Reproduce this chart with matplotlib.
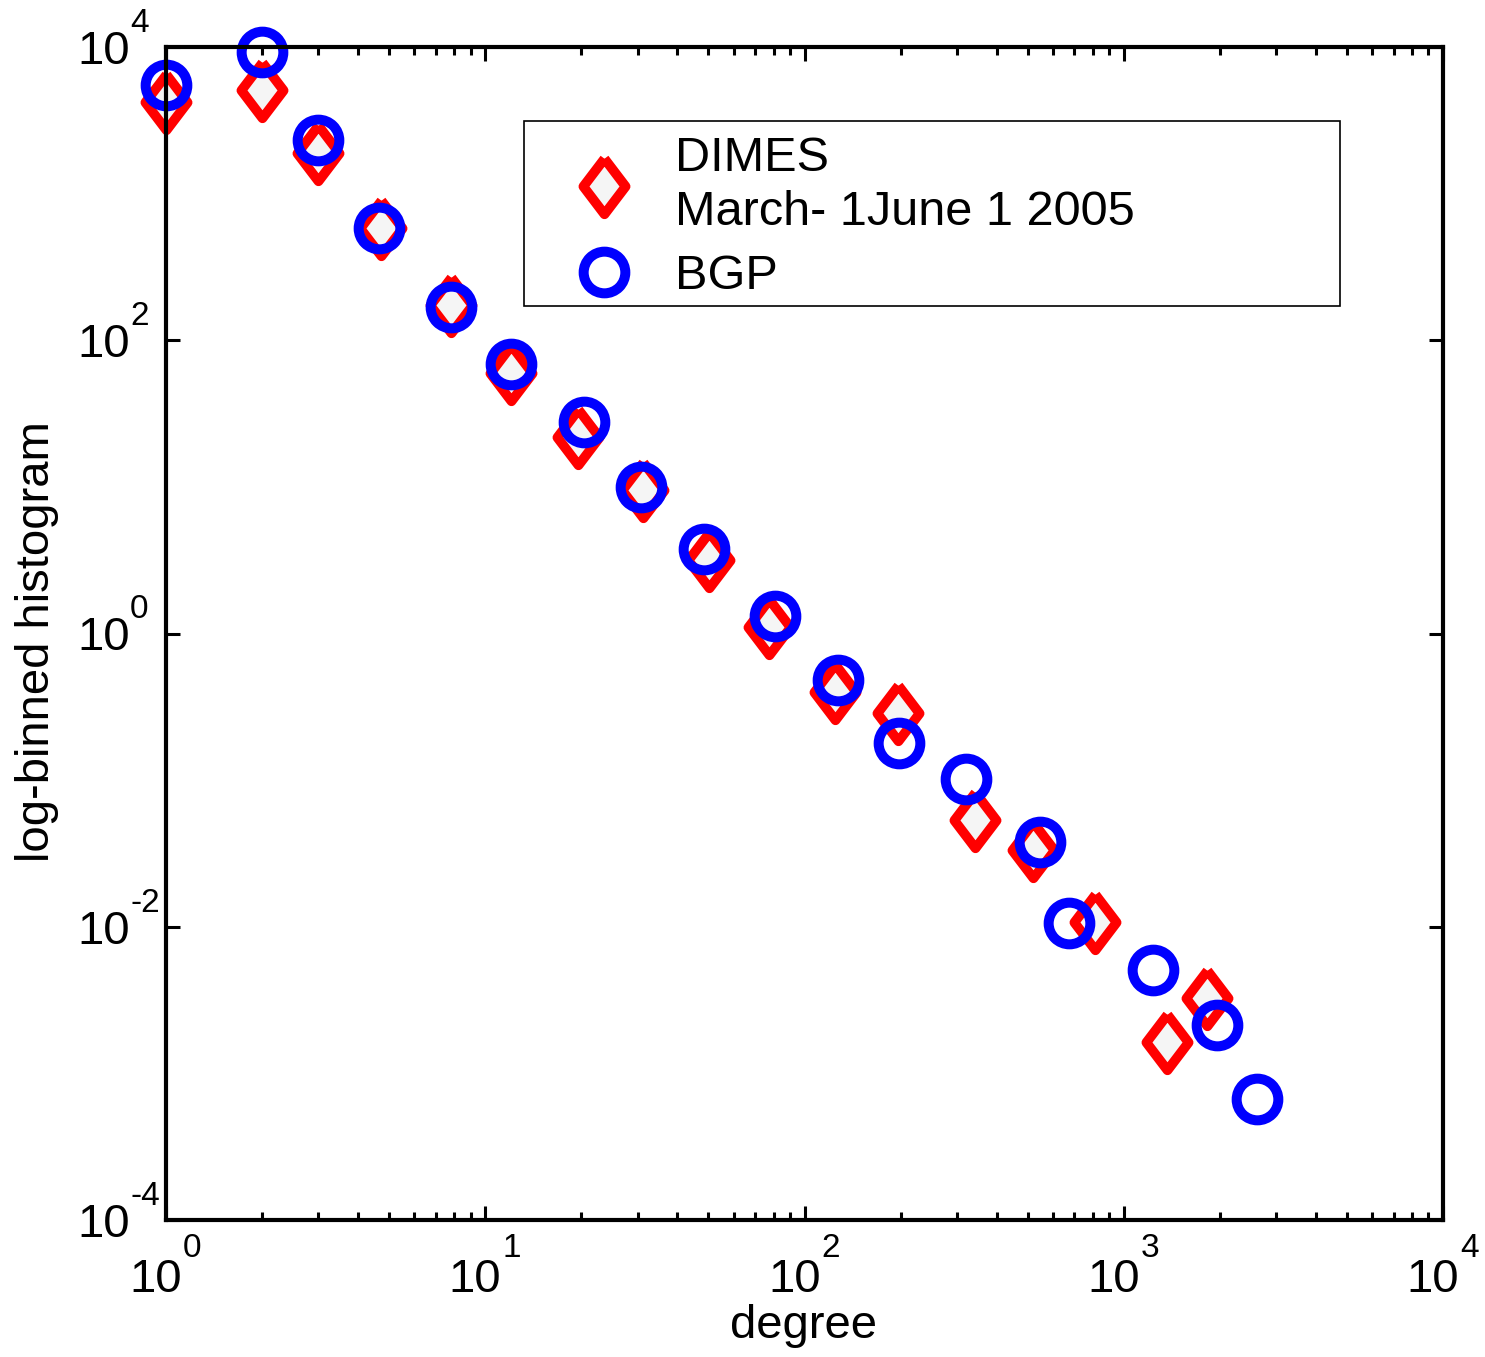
import matplotlib
matplotlib.use("Agg")
import matplotlib.pyplot as plt
from matplotlib.markers import MarkerStyle
from matplotlib.patches import Rectangle
from matplotlib.ticker import FixedLocator, NullLocator, LogLocator
from matplotlib.transforms import ScaledTranslation
import numpy as np

# ---- data ----
dimes_degree = [1, 2, 3, 4.7, 7.8, 12.0, 19.5, 31.2, 50.2, 77.4, 125, 196, 342, 520, 813, 1365, 1823]
dimes_hist = [4240, 5090, 1890, 582, 174, 59.7, 21.9, 9.5, 3.17, 1.1, 0.40, 0.286, 0.0533, 0.0333,
              0.0107, 0.00163, 0.00326]
bgp_degree = [1, 2, 3, 4.65, 7.8, 12.0, 20.4, 30.8, 48.4, 80.9, 127, 198, 320, 547, 674, 1236, 1959, 2612]
bgp_hist = [5510, 9250, 2323, 582, 168, 68.9, 27.7, 9.97, 3.77, 1.32, 0.481, 0.179, 0.1016, 0.0378,
            0.01057, 0.00506, 0.00213, 0.000667]
dimes_label = "DIMES\nMarch- 1June 1 2005"
bgp_label = "BGP"
x_ticks = [1, 10, 100, 1000, 10000]
y_ticks = [1e-4, 1e-2, 1e0, 1e2, 1e4]
x_label = "degree"
y_label = "log-binned histogram"

plt.rcParams["font.family"] = ["Liberation Sans", "DejaVu Sans"]

W, H = 1485, 1357
fig = plt.figure(figsize=(W / 100, H / 100), dpi=100)
L, R, T, B = 166, 1443, 47, 1220
ax = fig.add_axes([L / W, 1 - B / H, (R - L) / W, (B - T) / H])

diamond = MarkerStyle([(0, 1), (0.76, 0), (0, -1), (-0.76, 0), (0, 1)], joinstyle="round")
circle = MarkerStyle("o", joinstyle="round")

ax.plot(dimes_degree, dimes_hist, linestyle="none", marker=diamond, markersize=40,
        markerfacecolor="#f5f5f5", markeredgecolor="#ff0000", markeredgewidth=7,
        label=dimes_label, clip_on=False)
ax.plot(bgp_degree, bgp_hist, linestyle="none", marker=circle, markersize=30,
        markerfacecolor="none", markeredgecolor="#0000ff", markeredgewidth=7.2,
        label=bgp_label, clip_on=False)

ax.set_xscale("log")
ax.set_yscale("log")
ax.set_xlim(1, 1e4)
ax.set_ylim(1e-4, 1e4)

ax.xaxis.set_major_locator(FixedLocator(x_ticks))
ax.xaxis.set_minor_locator(LogLocator(base=10, subs=np.arange(2, 10)))
ax.yaxis.set_major_locator(FixedLocator(y_ticks))
ax.yaxis.set_minor_locator(NullLocator())

for s in ax.spines.values():
    s.set_linewidth(3)
ax.tick_params(which="both", direction="in", top=True, right=True, width=2.2, colors="black",
               labelbottom=False, labelleft=False)
ax.tick_params(which="major", length=10)
ax.tick_params(which="minor", length=6)


def px(dx, dy):
    # offset in pixels: dx to the right, dy downwards
    return ScaledTranslation(dx / 100, -dy / 100, fig.dpi_scale_trans)


BASE_FS = 34
SUP_FS = 24
xt = ax.get_xaxis_transform()
for v in x_ticks:
    e = int(round(np.log10(v)))
    ax.text(v, 0, "10", transform=xt + px(16, 72), ha="right", va="baseline",
            fontsize=BASE_FS, clip_on=False)
    ax.text(v, 0, str(e), transform=xt + px(17, 37), ha="left", va="baseline",
            fontsize=SUP_FS, clip_on=False)

yt = ax.get_yaxis_transform()
for v in y_ticks:
    e = int(round(np.log10(v)))
    ax.text(0, v, "10", transform=yt + px(-36, 17), ha="right", va="baseline",
            fontsize=BASE_FS, clip_on=False)
    ax.text(0, v, str(e), transform=yt + px(-36, -15), ha="left", va="baseline",
            fontsize=SUP_FS, clip_on=False)

ax.set_xlabel(x_label, fontsize=BASE_FS)
ax.xaxis.set_label_coords((803 - L) / (R - L), (B - 1304) / (B - T))
ax.set_ylabel(y_label, fontsize=BASE_FS)
ax.yaxis.set_label_coords((59 - L) / (R - L), (B - 642) / (B - T))

LEG_FS = 35
leg = ax.legend(loc="upper left",
                bbox_to_anchor=((524 - L) / (R - L), (B - 119) / (B - T), (1340 - 524) / (R - L), 0),
                mode="expand", borderaxespad=0, fontsize=LEG_FS, frameon=False,
                handlelength=2.6, handletextpad=0.15, borderpad=0.35,
                labelspacing=0.4, markerscale=1.0, numpoints=1)
for t in leg.get_texts():
    t.set_linespacing(1.25)

# legend frame drawn at the reference's exact box
fig.patches.append(Rectangle((524 / W, 1 - 306 / H), (1340 - 524) / W, (306 - 121) / H,
                             transform=fig.transFigure, fill=False, edgecolor="black",
                             linewidth=1.2, zorder=5))

fig.savefig("out.png", dpi=100, facecolor="white")
